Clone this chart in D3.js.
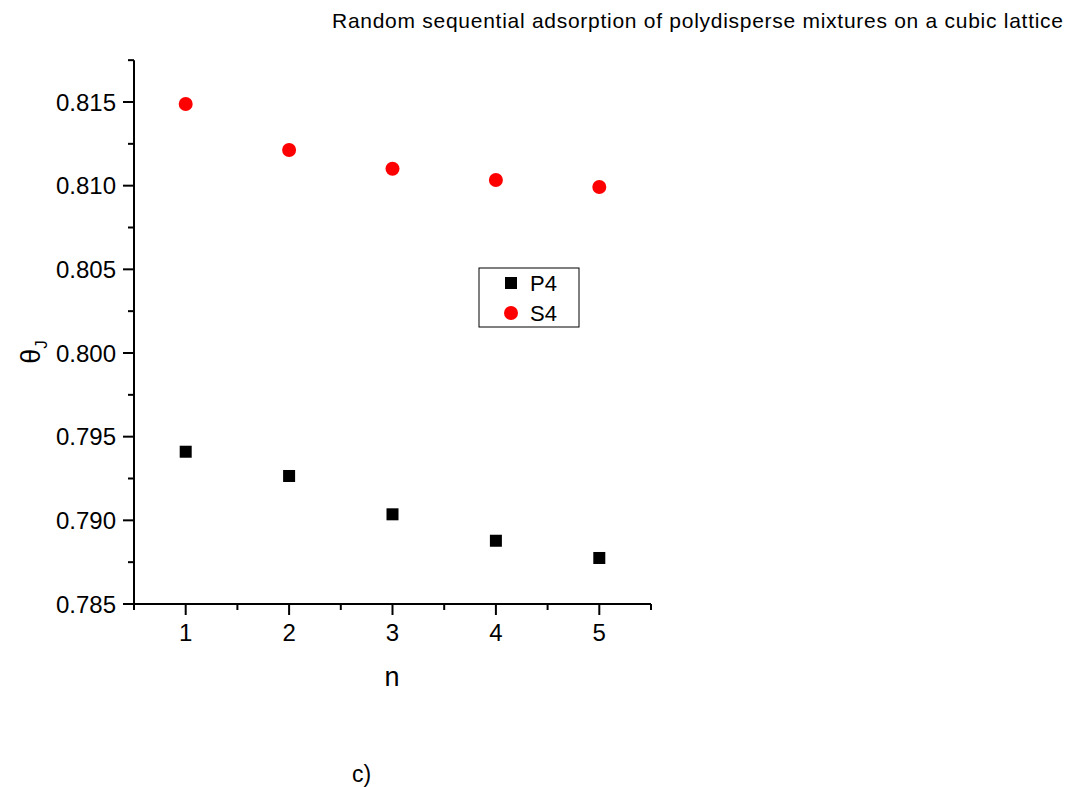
<!DOCTYPE html>
<html>
<head>
<meta charset="utf-8">
<script src="https://cdn.jsdelivr.net/npm/d3@7"></script>
<style>
  body { margin: 0; background: #fff; }
  svg { display: block; }
  text { font-family: "Liberation Sans", Arial, sans-serif; }
</style>
</head>
<body>
<svg id="root" width="1073" height="787"></svg>
<script>
const nValues = [1, 2, 3, 4, 5];
const p4 = [0.79410, 0.79265, 0.79036, 0.78878, 0.78775];
const s4 = [0.81488, 0.81213, 0.81101, 0.81034, 0.80992];
const yTicks = [0.785, 0.790, 0.795, 0.800, 0.805, 0.810, 0.815];
const seriesNames = ["P4", "S4"];

const svg = d3.select("#root");

// plot area
const x = d3.scaleLinear().domain([0.5, 5.5]).range([134, 651]);
const y = d3.scaleLinear().domain([0.785, 0.815]).range([604, 102]);
const yTop = y(0.8175);

// y axis
const yAxis = svg.append("g").attr("transform", "translate(134,0)");
yAxis.append("line")
  .attr("x1", 0).attr("x2", 0)
  .attr("y1", yTop).attr("y2", 604)
  .attr("stroke", "#000").attr("stroke-width", 2);
const yMinor = d3.range(0.7875, 0.8176, 0.005);
yAxis.selectAll(".minor").data(yMinor).enter().append("line")
  .attr("x1", -6).attr("x2", 0)
  .attr("y1", d => y(d)).attr("y2", d => y(d))
  .attr("stroke", "#000").attr("stroke-width", 2);
yAxis.selectAll(".major").data(yTicks).enter().append("line")
  .attr("x1", -11).attr("x2", 0)
  .attr("y1", d => y(d)).attr("y2", d => y(d))
  .attr("stroke", "#000").attr("stroke-width", 2);
yAxis.selectAll(".lbl").data(yTicks).enter().append("text")
  .attr("x", -18).attr("y", d => y(d))
  .attr("dy", "0.36em")
  .attr("text-anchor", "end")
  .attr("font-size", 24)
  .text(d => d3.format(".3f")(d));

// x axis
const xAxis = svg.append("g").attr("transform", "translate(0,604)");
xAxis.append("line")
  .attr("x1", 134).attr("x2", 651)
  .attr("y1", 0).attr("y2", 0)
  .attr("stroke", "#000").attr("stroke-width", 2);
const xMinor = [0.5, 1.5, 2.5, 3.5, 4.5, 5.5];
xAxis.selectAll(".minor").data(xMinor).enter().append("line")
  .attr("x1", d => x(d)).attr("x2", d => x(d))
  .attr("y1", 0).attr("y2", 6)
  .attr("stroke", "#000").attr("stroke-width", 2);
xAxis.selectAll(".major").data(nValues).enter().append("line")
  .attr("x1", d => x(d)).attr("x2", d => x(d))
  .attr("y1", 0).attr("y2", 11)
  .attr("stroke", "#000").attr("stroke-width", 2);
xAxis.selectAll(".lbl").data(nValues).enter().append("text")
  .attr("x", d => x(d)).attr("y", 37)
  .attr("text-anchor", "middle")
  .attr("font-size", 24)
  .text(d => d);

// axis titles
svg.append("text")
  .attr("x", 392).attr("y", 686)
  .attr("text-anchor", "middle")
  .attr("font-size", 27)
  .text("n");

const yl = svg.append("text")
  .attr("transform", "translate(40,352) rotate(-90)")
  .attr("text-anchor", "middle")
  .attr("font-size", 27);
yl.append("tspan").text("θ");
yl.append("tspan").attr("dy", 7).attr("font-size", 17).text("J");

// data
svg.selectAll(".p4").data(nValues).enter().append("rect")
  .attr("x", (d, i) => x(d) - 6)
  .attr("y", (d, i) => y(p4[i]) - 6)
  .attr("width", 12).attr("height", 12)
  .attr("fill", "#000");

svg.selectAll(".s4").data(nValues).enter().append("circle")
  .attr("cx", (d, i) => x(d))
  .attr("cy", (d, i) => y(s4[i]))
  .attr("r", 7)
  .attr("fill", "#ff0000");

// legend
const lg = svg.append("g").attr("transform", "translate(479,268)");
lg.append("rect")
  .attr("width", 100).attr("height", 59)
  .attr("fill", "#fff").attr("stroke", "#000").attr("stroke-width", 1);
lg.append("rect").attr("x", 26).attr("y", 9).attr("width", 12).attr("height", 12).attr("fill", "#000");
lg.append("circle").attr("cx", 32).attr("cy", 45).attr("r", 7).attr("fill", "#ff0000");
lg.selectAll(".lt").data(seriesNames).enter().append("text")
  .attr("x", 51).attr("y", (d, i) => 15 + i * 30)
  .attr("dy", "0.36em")
  .attr("font-size", 22)
  .text(d => d);

// title and caption
svg.append("text")
  .attr("x", 1063).attr("y", 28)
  .attr("text-anchor", "end")
  .attr("font-family", "Lato, 'Open Sans', sans-serif")
  .attr("font-size", 21)
  .attr("textLength", 731)
  .text("Random sequential adsorption of polydisperse mixtures on a cubic lattice");

svg.append("text")
  .attr("x", 352).attr("y", 782)
  .attr("font-family", "'Liberation Serif', 'DejaVu Serif', serif")
  .attr("font-size", 23)
  .text("c)");
</script>
</body>
</html>
